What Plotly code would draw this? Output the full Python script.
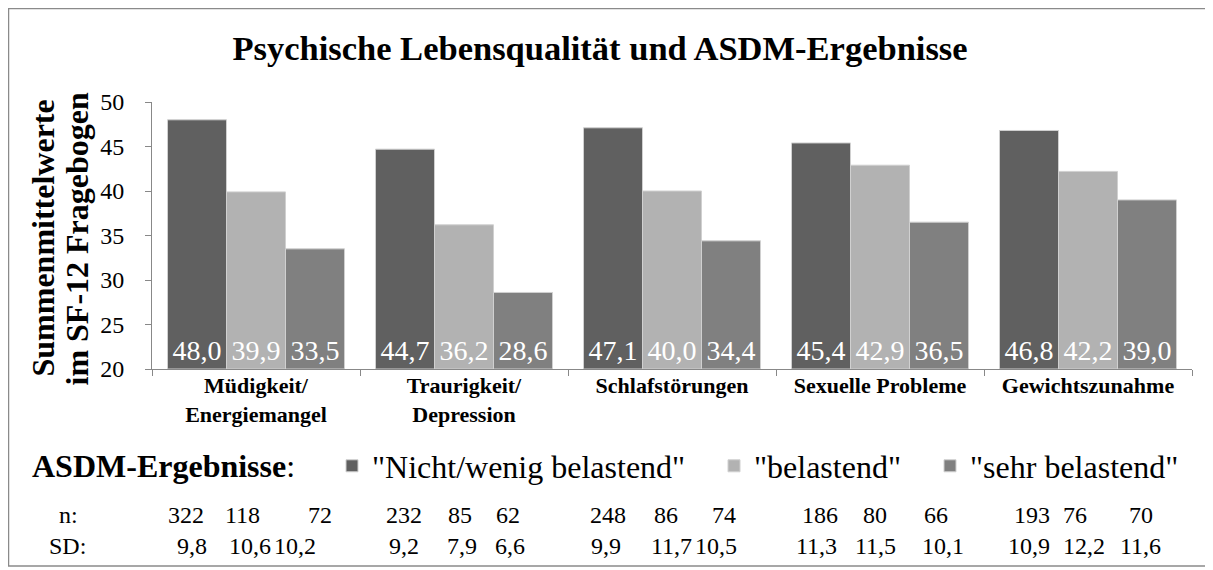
import plotly.graph_objects as go

# ---------------- data ----------------
categories = ["Müdigkeit/<br>Energiemangel", "Traurigkeit/<br>Depression",
              "Schlafstörungen", "Sexuelle Probleme", "Gewichtszunahme"]
series_names = ['"Nicht/wenig belastend"', '"belastend"', '"sehr belastend"']
nicht_wenig = [48.0, 44.7, 47.1, 45.4, 46.8]
belastend = [39.9, 36.2, 40.0, 42.9, 42.2]
sehr_belastend = [33.5, 28.6, 34.4, 36.5, 39.0]

n_nicht_wenig = [322, 232, 248, 186, 193]
n_belastend = [118, 85, 86, 80, 76]
n_sehr = [72, 62, 74, 66, 70]
sd_nicht_wenig = [9.8, 9.2, 9.9, 11.3, 10.9]
sd_belastend = [10.6, 7.9, 11.7, 11.5, 12.2]
sd_sehr = [10.2, 6.6, 10.5, 10.1, 11.6]

y_ticks = [20, 25, 30, 35, 40, 45, 50]
y_min, y_max = 20, 50

# ---------------- styles / layout ----------------
colors = ["#606060", "#b2b2b2", "#808080"]
FONT = "Liberation Serif, Times New Roman, serif"
OFF = 8                      # page offset of the figure in the window
W, H = 1213 - OFF, 570 - OFF
# plot area in window pixels
PL, PR, PT, PB = 152, 1192, 102, 369
ML, MR, MT, MB = PL - OFF, W - (PR - OFF), PT - OFF, H - (PB - OFF)
PW, PH = PR - PL, PB - PT


def px(x):          # window x pixel -> paper
    return (x - PL) / PW


def py(y):          # window y pixel -> paper
    return (PB - y) / PH


def de(v):
    return f"{v:.1f}".replace(".", ",")


fig = go.Figure()
for i, (name, vals) in enumerate(zip(series_names, [nicht_wenig, belastend, sehr_belastend])):
    fig.add_trace(go.Bar(
        x=[f"<b>{c}</b>" for c in categories],
        y=[v - y_min for v in vals], base=y_min, name=name,
        marker=dict(color=colors[i], line=dict(color="#d0d0d0", width=1)),
        text=[de(v) for v in vals], textposition="inside", insidetextanchor="start",
        textangle=0, constraintext="none",
        textfont=dict(family=FONT, size=28, color="white"),
        legend=["legend", "legend2", "legend3"][i],
        hoverinfo="skip",
    ))

# n / SD table (column centres in window pixels)
n_cols = [[186, 242, 320], [404, 460, 508], [608, 666, 724], [820, 875, 936], [1032, 1075, 1141]]
sd_cols = [[192, 250, 295], [404, 462, 510], [606, 671, 716], [816, 875, 943], [1029, 1084, 1140]]
N_ROW_Y, SD_ROW_Y = 515, 546
TABLE_SIZE = 24
n_vals = list(zip(n_nicht_wenig, n_belastend, n_sehr))
sd_vals = list(zip(sd_nicht_wenig, sd_belastend, sd_sehr))


def label(text, x, y, size, anchor="center", angle=0):
    return dict(text=text, x=px(x), y=py(y), xref="paper", yref="paper",
                showarrow=False, xanchor=anchor, yanchor="middle", textangle=angle,
                font=dict(family=FONT, size=size, color="black"))


annotations = []
for g in range(len(categories)):
    for k in range(3):
        annotations.append(label(str(n_vals[g][k]), n_cols[g][k], N_ROW_Y, TABLE_SIZE))
        annotations.append(label(de(sd_vals[g][k]), sd_cols[g][k], SD_ROW_Y, TABLE_SIZE))
annotations.append(label("n:", 68, N_ROW_Y, TABLE_SIZE))
annotations.append(label("SD:", 67, SD_ROW_Y, TABLE_SIZE))
annotations.append(label("<b>ASDM-Ergebnisse</b>:", 30, 466, 32, anchor="left"))
annotations.append(label("<b>Summenmittelwerte</b>", 42, (PT + PB) / 2 + 3, 32, angle=-90))
annotations.append(label("<b>im SF-12 Fragebogen</b>", 76, (PT + PB) / 2 + 3, 32, angle=-90))

legend_style = dict(orientation="h", yanchor="middle", xanchor="left", y=py(466),
                    font=dict(family=FONT, size=32, color="black"),
                    bgcolor="rgba(0,0,0,0)", borderwidth=0)

fig.update_layout(
    width=W, height=H,
    margin=dict(l=ML, r=MR, t=MT, b=MB),
    paper_bgcolor="white", plot_bgcolor="white",
    barmode="group", bargap=0.149, bargroupgap=0,
    title=dict(text="<b>Psychische Lebensqualität und ASDM-Ergebnisse</b>",
               x=(600 - OFF) / W, xanchor="center", y=1 - (48 - OFF) / H, yanchor="middle",
               font=dict(family=FONT, size=34.5, color="black")),
    xaxis=dict(showline=True, linecolor="#888888", linewidth=1, ticks="outside",
               tickson="boundaries", ticklen=6, tickcolor="#888888",
               ticklabelstandoff=-3,
               tickfont=dict(family=FONT, size=22, color="black"), showgrid=False),
    yaxis=dict(range=[y_min, y_max], tickvals=y_ticks, showline=True, linecolor="#888888",
               linewidth=1, ticks="outside", ticklen=6, tickcolor="#888888",
               ticklabelstandoff=16,
               tickfont=dict(family=FONT, size=24, color="black"), showgrid=False,
               zeroline=False),
    legend=dict(x=px(332), **legend_style),
    legend2=dict(x=px(714), **legend_style),
    legend3=dict(x=px(930), **legend_style),
    showlegend=True,
    annotations=annotations,
    shapes=[dict(type="rect", xref="paper", yref="paper",
                 x0=px(OFF + 0.5), x1=px(1207), y0=py(566), y1=py(OFF + 0.5),
                 line=dict(color="#8a8a8a", width=1.5), layer="below")],
)

fig.write_html("out.html")
